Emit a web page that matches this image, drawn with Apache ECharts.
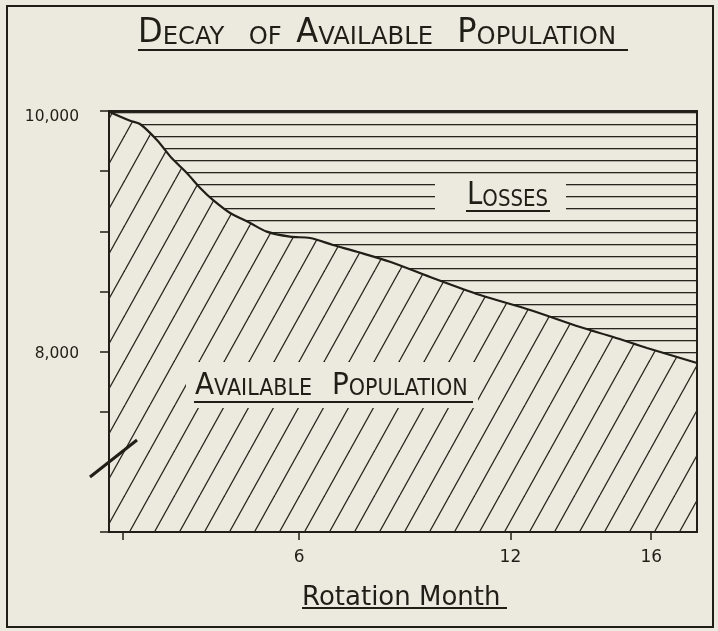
<!DOCTYPE html>
<html>
<head>
<meta charset="utf-8">
<script src="https://cdn.jsdelivr.net/npm/echarts@6/dist/echarts.min.js"></script>
<style>
html,body{margin:0;padding:0;background:#eceadf;}
#chart{width:718px;height:631px;}
</style>
</head>
<body>
<div id="chart"></div>
<script>
// ---- data ----
const months = [0.6, 1.2, 1.48, 1.96, 2.38, 2.81, 3.19, 3.55, 4.04, 4.61, 5.08, 5.74, 6.31, 6.96, 7.64, 8.58, 9.72, 11.14, 12.56, 13.98, 14.92, 15.88, 17.3];
const available = [9994, 9919, 9892, 9759, 9609, 9485, 9360, 9261, 9152, 9069, 8997, 8955, 8944, 8886, 8830, 8747, 8620, 8470, 8346, 8204, 8121, 8030, 7905];
const xTickValues = [1, 6, 12, 16];
const xLabelValues = [6, 12, 16];
const yTickValues = [6500, 7500, 8000, 8500, 9000, 9500, 10000];
const yLabelValues = [8000, 10000];

const INK = '#1f1f17';
const PAPER = '#eceadf';
const FONT = 'DejaVu Sans';

function makeDiag() {
  const c = document.createElement('canvas');
  c.width = 25; c.height = 45;
  const g = c.getContext('2d');
  g.strokeStyle = '#26261e'; g.lineWidth = 1.3;
  [-25, 0, 25].forEach(dx => {
    g.beginPath(); g.moveTo(dx, 45); g.lineTo(dx + 25, 0); g.stroke();
  });
  return c;
}
function makeHoriz() {
  const c = document.createElement('canvas');
  c.width = 10; c.height = 12;
  const g = c.getContext('2d');
  g.fillStyle = '#26261e';
  g.fillRect(0, 4, 10, 1.3);
  return c;
}

const points = months.map((m, i) => [m, available[i]]);

const chart = echarts.init(document.getElementById('chart'), null, {renderer: 'canvas'});

const option = {
  backgroundColor: PAPER,
  animation: false,
  grid: {left: 109, top: 111, right: 21, bottom: 99, show: true, borderColor: INK, borderWidth: 2, backgroundColor: 'transparent'},
  xAxis: {
    type: 'value', min: 0.6, max: 17.3,
    axisLine: {lineStyle: {color: INK, width: 2}},
    axisTick: {customValues: xTickValues, length: 8, lineStyle: {color: INK, width: 1.5}},
    axisLabel: {customValues: xLabelValues, margin: 17, fontSize: 17, color: INK, fontFamily: FONT},
    splitLine: {show: false}
  },
  yAxis: {
    type: 'value', min: 6500, max: 10000, interval: 500,
    axisLine: {lineStyle: {color: INK, width: 2}},
    axisTick: {customValues: yTickValues, length: 9, lineStyle: {color: INK, width: 1.5}},
    axisLabel: {customValues: yLabelValues, margin: 30, color: INK,
      formatter: v => (v === 10000 ? '{a|' : '{b|') + v.toLocaleString('en-US') + '}',
      rich: {a: {fontSize: 15.5, fontFamily: FONT, color: INK, padding: [12, 0, 0, 0]},
             b: {fontSize: 15.5, fontFamily: FONT, color: INK, padding: [4, 0, 0, 0]}}},
    splitLine: {show: false}
  },
  series: [
    {
      name: 'Available Population', type: 'line', smooth: 0.3, symbol: 'none',
      data: points,
      lineStyle: {color: INK, width: 2.2},
      areaStyle: {origin: 'start', color: {image: makeDiag(), repeat: 'repeat'}, opacity: 1},
      z: 3
    },
    {
      name: 'Losses', type: 'line', smooth: 0.3, symbol: 'none',
      data: points,
      lineStyle: {width: 0},
      areaStyle: {origin: 'end', color: {image: makeHoriz(), repeat: 'repeat'}, opacity: 1},
      z: 2
    }
  ],
  graphic: [
    {type: 'rect', shape: {x: 7, y: 6, width: 706, height: 621}, style: {fill: 'none', stroke: INK, lineWidth: 2}, z: 100},
    // title
    {type: 'text', x: 138, y: 50, z: 100, scaleX: 0.97,
      style: {text: '{b|D}{s|ECAY}{g|}{s|OF}{h|}{b|A}{s|VAILABLE}{g|}{b|P}{s|OPULATION}',
        textAlign: 'left', textVerticalAlign: 'bottom', fill: INK,
        rich: {b: {fontSize: 33, fontFamily: FONT, verticalAlign: 'bottom', fill: INK},
               s: {fontSize: 25, fontFamily: FONT, verticalAlign: 'bottom', fill: INK},
               g: {width: 25}, h: {width: 15}}}},
    {type: 'line', shape: {x1: 138, y1: 50, x2: 628, y2: 50}, style: {stroke: INK, lineWidth: 2}, z: 100},
    // losses label
    {type: 'rect', shape: {x: 435, y: 180, width: 131, height: 35}, style: {fill: PAPER}, z: 100},
    {type: 'text', x: 467, y: 212, z: 101, scaleX: 0.86,
      style: {text: '{b|L}{s|OSSES}', textAlign: 'left', textVerticalAlign: 'bottom', fill: INK,
        rich: {b: {fontSize: 32, fontFamily: FONT, verticalAlign: 'bottom', fill: INK},
               s: {fontSize: 23, fontFamily: FONT, verticalAlign: 'bottom', fill: INK}}}},
    {type: 'line', shape: {x1: 466, y1: 211, x2: 550, y2: 211}, style: {stroke: INK, lineWidth: 2}, z: 102},
    // available label
    {type: 'rect', shape: {x: 186, y: 362, width: 292, height: 46}, style: {fill: PAPER}, z: 100},
    {type: 'text', x: 195, y: 401, z: 101, scaleX: 0.9,
      style: {text: '{b|A}{s|VAILABLE}{g|}{b|P}{s|OPULATION}', textAlign: 'left', textVerticalAlign: 'bottom', fill: INK,
        rich: {b: {fontSize: 31, fontFamily: FONT, verticalAlign: 'bottom', fill: INK},
               s: {fontSize: 23, fontFamily: FONT, verticalAlign: 'bottom', fill: INK},
               g: {width: 22}}}},
    {type: 'line', shape: {x1: 194, y1: 402, x2: 473, y2: 402}, style: {stroke: INK, lineWidth: 2}, z: 102},
    // x axis name
    {type: 'text', x: 302, y: 611, z: 100,
      style: {text: 'Rotation Month', textAlign: 'left', textVerticalAlign: 'bottom', fill: INK, fontSize: 26, fontFamily: FONT}},
    {type: 'line', shape: {x1: 302, y1: 608, x2: 507, y2: 608}, style: {stroke: INK, lineWidth: 2}, z: 100},
    // stray pen stroke
    {type: 'line', shape: {x1: 90, y1: 477, x2: 137, y2: 440}, style: {stroke: INK, lineWidth: 3}, z: 100}
  ]
};
chart.setOption(option);
</script>
</body>
</html>
